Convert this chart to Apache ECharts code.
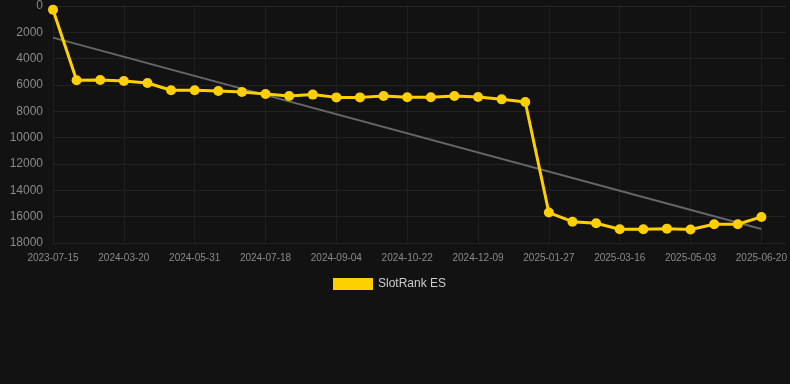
<!DOCTYPE html>
<html>
<head>
<meta charset="utf-8">
<script src="https://cdn.jsdelivr.net/npm/echarts@6/dist/echarts.min.js"></script>
<style>
html, body { margin: 0; padding: 0; background: #121212; }
#chart { width: 790px; height: 384px; }
</style>
</head>
<body>
<div id="chart"></div>
<script>
var dates = [
    '2023-07-15', '2024-02-10', '2024-02-26', '2024-03-20', '2024-04-13', '2024-05-07',
    '2024-05-31', '2024-06-16', '2024-07-02', '2024-07-18', '2024-08-03', '2024-08-19',
    '2024-09-04', '2024-09-20', '2024-10-06', '2024-10-22', '2024-11-07', '2024-11-23',
    '2024-12-09', '2024-12-25', '2025-01-10', '2025-01-27', '2025-02-12', '2025-02-28',
    '2025-03-16', '2025-04-01', '2025-04-17', '2025-05-03', '2025-05-19', '2025-06-04',
    '2025-06-20', '2025-07-06'
];
var ranks = [
    280, 5640, 5620, 5700, 5850, 6400, 6400, 6450, 6530, 6690, 6830,
    6730, 6940, 6940, 6830, 6930, 6930, 6830, 6910, 7090, 7290,
    15690, 16380, 16500, 16960, 16960, 16910, 16980, 16580, 16580, 16020
];
var trendStart = 2400;
var trendEnd = 16930;

var chart = echarts.init(document.getElementById('chart'));
var option = {
    backgroundColor: '#121212',
    animation: false,
    grid: {
        left: 53,
        right: 5,
        top: 6,
        bottom: 141
    },
    legend: {
        top: 273,
        left: 328,
        itemWidth: 40,
        itemHeight: 12,
        data: [{ name: 'SlotRank ES', icon: 'rect' }],
        textStyle: { color: '#cccccc', fontSize: 12, fontFamily: 'Liberation Sans' }
    },
    xAxis: {
        type: 'category',
        data: dates,
        boundaryGap: false,
        axisLine: { show: true, lineStyle: { color: '#262626' } },
        axisTick: { show: false },
        axisLabel: {
            interval: 2,
            color: '#8a8a8a',
            fontSize: 10,
            fontFamily: 'Liberation Sans',
            margin: 10
        },
        splitLine: {
            show: true,
            interval: 2,
            lineStyle: { color: '#1f1f1f' }
        }
    },
    yAxis: {
        type: 'value',
        inverse: true,
        min: 0,
        max: 18000,
        interval: 2000,
        axisLine: { show: false },
        axisTick: { show: false },
        axisLabel: {
            color: '#8a8a8a',
            fontSize: 12,
            fontFamily: 'Liberation Sans',
            margin: 10,
            formatter: function (v) { return String(v); }
        },
        splitLine: { lineStyle: { color: '#222222' } }
    },
    series: [
        {
            name: 'SlotRank ES',
            type: 'line',
            data: ranks,
            color: '#ffd000',
            symbol: 'circle',
            symbolSize: 10,
            lineStyle: { width: 3, color: '#ffd000' },
            itemStyle: { color: '#ffd000' },
            z: 3
        },
        {
            name: 'trend',
            type: 'line',
            data: [[dates[0], trendStart], [dates[30], trendEnd]],
            symbol: 'none',
            lineStyle: { width: 2, color: '#666666' },
            z: 2
        }
    ]
};
chart.setOption(option);
</script>
</body>
</html>
